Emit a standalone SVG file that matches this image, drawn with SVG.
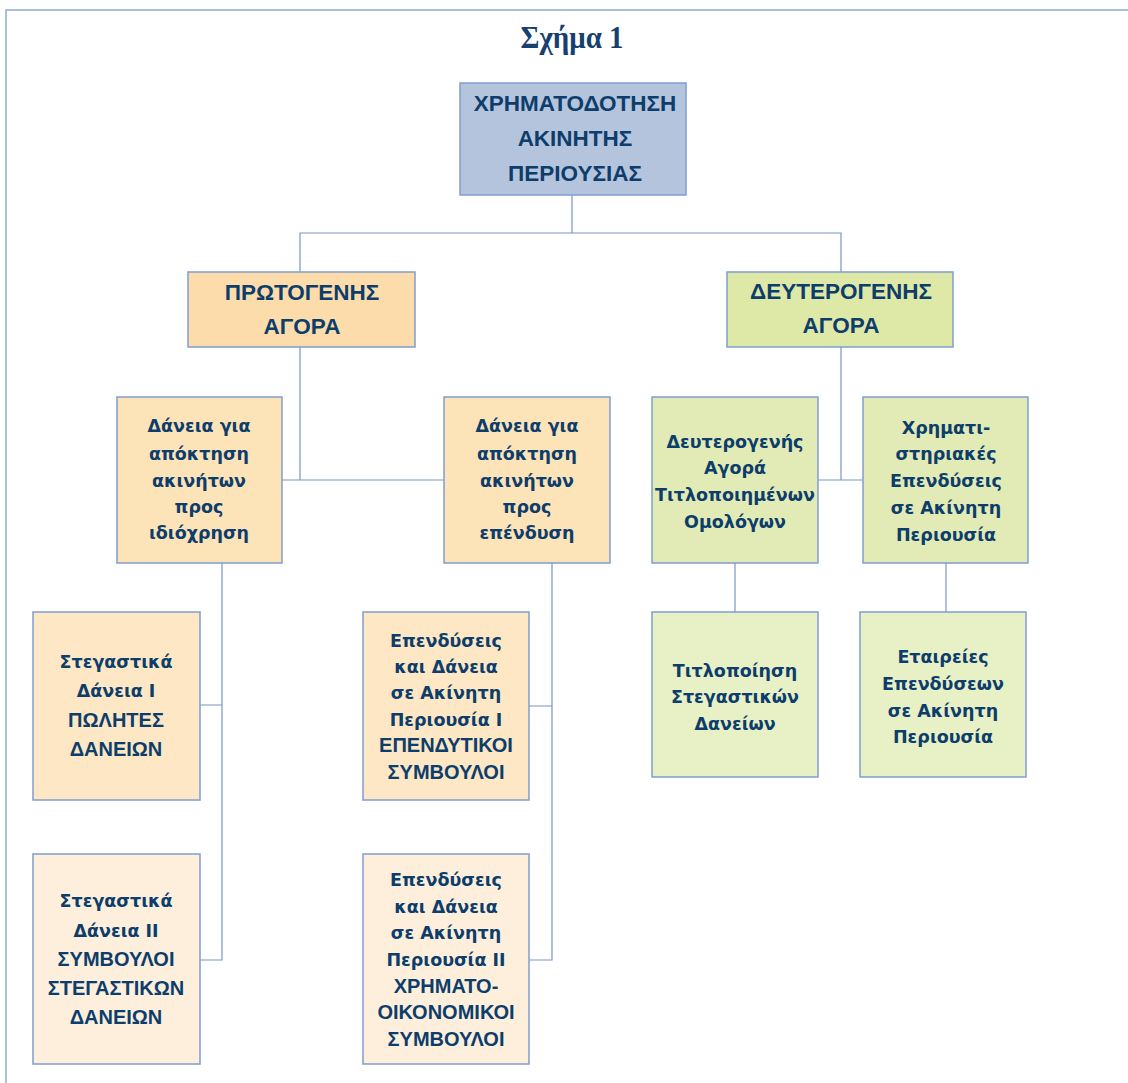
<svg xmlns="http://www.w3.org/2000/svg" width="1128" height="1083" viewBox="0 0 1128 1083">
<style>
.frame{fill:none;stroke:#8eaad6;stroke-width:1.5}
.box{stroke:#7f9ed0;stroke-width:1.5}
.c{fill:none;stroke:#7896c8;stroke-width:1.2}
text{fill:#0d3d6b;text-anchor:middle;font-weight:bold}
.h{font-family:"Liberation Sans",Arial,sans-serif;font-size:22.5px}
.n{font-family:"Liberation Sans",Arial,sans-serif;font-size:20px}
.w{font-family:"DejaVu Sans",Verdana,sans-serif;font-size:17.5px}
.t{font-family:"Liberation Serif","Times New Roman",serif;font-size:32px;fill:#17406e}
.blue{fill:#b5c4dd}
.o1{fill:#fcdcaa}
.o2{fill:#fde3b8}
.o3{fill:#fde7c4}
.o4{fill:#fdefdc}
.g1{fill:#dfe9a7}
.g2{fill:#e2ebb5}
.g3{fill:#e8f0c6}
</style>
<rect width="1128" height="1083" fill="#ffffff"/>
<path class="frame" d="M6,1083 V10 H1128"/>
<text class="t" x="572" y="48" textLength="103" lengthAdjust="spacingAndGlyphs">Σχήμα 1</text>

<g id="connectors">
<path class="c" d="M572,195 V233 M300,272 V233 H841 V272"/>
<path class="c" d="M300,347 V480 M282,480 H444"/>
<path class="c" d="M841,347 V480 M818,480 H863"/>
<path class="c" d="M222,562 V960 H200 M222,705 H200"/>
<path class="c" d="M552,562 V960 H529 M552,706 H529"/>
<path class="c" d="M735,562 V612"/>
<path class="c" d="M946,562 V612"/>
</g>

<g id="root">
<rect class="box blue" x="460" y="83" width="226" height="112"/>
<text class="h"><tspan x="575" y="111">ΧΡΗΜΑΤΟΔΟΤΗΣΗ</tspan><tspan x="575" y="146">ΑΚΙΝΗΤΗΣ</tspan><tspan x="575" y="181">ΠΕΡΙΟΥΣΙΑΣ</tspan></text>
</g>

<g id="primary">
<rect class="box o1" x="188" y="272" width="227" height="75"/>
<text class="h"><tspan x="302" y="300">ΠΡΩΤΟΓΕΝΗΣ</tspan><tspan x="302" y="334">ΑΓΟΡΑ</tspan></text>
</g>

<g id="secondary">
<rect class="box g1" x="727" y="272" width="226" height="75"/>
<text class="h"><tspan x="841" y="299">ΔΕΥΤΕΡΟΓΕΝΗΣ</tspan><tspan x="841" y="333">ΑΓΟΡΑ</tspan></text>
</g>

<g id="loans-own">
<rect class="box o2" x="117" y="397" width="165" height="166"/>
<text class="w"><tspan x="199" y="432">Δάνεια για</tspan><tspan x="199" y="460">απόκτηση</tspan><tspan x="199" y="487">ακινήτων</tspan><tspan x="199" y="513">προς</tspan><tspan x="199" y="539">ιδιόχρηση</tspan></text>
</g>

<g id="loans-invest">
<rect class="box o2" x="444" y="397" width="166" height="166"/>
<text class="w"><tspan x="527" y="432">Δάνεια για</tspan><tspan x="527" y="460">απόκτηση</tspan><tspan x="527" y="487">ακινήτων</tspan><tspan x="527" y="513">προς</tspan><tspan x="527" y="539">επένδυση</tspan></text>
</g>

<g id="secondary-bonds">
<rect class="box g2" x="652" y="397" width="166" height="166"/>
<text class="w"><tspan x="735" y="448">Δευτερογενής</tspan><tspan x="735" y="474">Αγορά</tspan><tspan x="735" y="501">Τιτλοποιημένων</tspan><tspan x="735" y="528">Ομολόγων</tspan></text>
</g>

<g id="stock-invest">
<rect class="box g2" x="863" y="397" width="165" height="166"/>
<text class="w"><tspan x="946" y="434">Χρηματι-</tspan><tspan x="946" y="460">στηριακές</tspan><tspan x="946" y="487">Επενδύσεις</tspan><tspan x="946" y="514">σε Ακίνητη</tspan><tspan x="946" y="541">Περιουσία</tspan></text>
</g>

<g id="housing-1">
<rect class="box o3" x="33" y="612" width="167" height="188"/>
<text><tspan class="w" x="116" y="668">Στεγαστικά</tspan><tspan class="w" x="116" y="697">Δάνεια Ι</tspan><tspan class="n" x="116" y="727">ΠΩΛΗΤΕΣ</tspan><tspan class="n" x="116" y="756">ΔΑΝΕΙΩΝ</tspan></text>
</g>

<g id="invest-1">
<rect class="box o3" x="363" y="612" width="166" height="188"/>
<text><tspan class="w" x="446" y="647">Επενδύσεις</tspan><tspan class="w" x="446" y="673">και Δάνεια</tspan><tspan class="w" x="446" y="699">σε Ακίνητη</tspan><tspan class="w" x="446" y="726">Περιουσία Ι</tspan><tspan class="n" x="446" y="752">ΕΠΕΝΔΥΤΙΚΟΙ</tspan><tspan class="n" x="446" y="779">ΣΥΜΒΟΥΛΟΙ</tspan></text>
</g>

<g id="securitization">
<rect class="box g3" x="652" y="612" width="166" height="165"/>
<text class="w"><tspan x="735" y="677">Τιτλοποίηση</tspan><tspan x="735" y="703">Στεγαστικών</tspan><tspan x="735" y="730">Δανείων</tspan></text>
</g>

<g id="reits">
<rect class="box g3" x="860" y="612" width="166" height="165"/>
<text class="w"><tspan x="943" y="663">Εταιρείες</tspan><tspan x="943" y="690">Επενδύσεων</tspan><tspan x="943" y="717">σε Ακίνητη</tspan><tspan x="943" y="743">Περιουσία</tspan></text>
</g>

<g id="housing-2">
<rect class="box o4" x="33" y="854" width="167" height="210"/>
<text><tspan class="w" x="116" y="907">Στεγαστικά</tspan><tspan class="w" x="116" y="937">Δάνεια ΙΙ</tspan><tspan class="n" x="116" y="966">ΣΥΜΒΟΥΛΟΙ</tspan><tspan class="n" x="116" y="995">ΣΤΕΓΑΣΤΙΚΩΝ</tspan><tspan class="n" x="116" y="1024">ΔΑΝΕΙΩΝ</tspan></text>
</g>

<g id="invest-2">
<rect class="box o4" x="363" y="854" width="166" height="210"/>
<text><tspan class="w" x="446" y="886">Επενδύσεις</tspan><tspan class="w" x="446" y="913">και Δάνεια</tspan><tspan class="w" x="446" y="939">σε Ακίνητη</tspan><tspan class="w" x="446" y="966">Περιουσία ΙΙ</tspan><tspan class="n" x="446" y="993">ΧΡΗΜΑΤΟ-</tspan><tspan class="n" x="446" y="1019">ΟΙΚΟΝΟΜΙΚΟΙ</tspan><tspan class="n" x="446" y="1046">ΣΥΜΒΟΥΛΟΙ</tspan></text>
</g>
</svg>
